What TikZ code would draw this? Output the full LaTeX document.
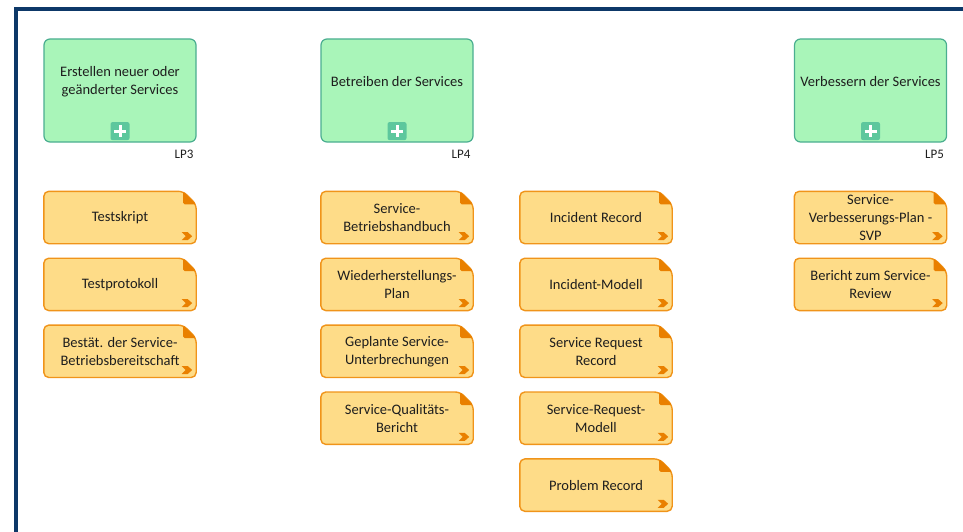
\documentclass[tikz,border=0pt]{standalone}
\usepackage{fontspec}
\setmainfont{Carlito}
\usepackage{xcolor}
\usetikzlibrary{positioning, backgrounds, calc}

\definecolor{framenavy}{HTML}{0D3868}
\definecolor{procfill}{HTML}{A9F5B9}
\definecolor{procline}{HTML}{4AAE90}
\definecolor{plusfill}{HTML}{5DC79D}
\definecolor{docfill}{HTML}{FEDC88}
\definecolor{docline}{HTML}{F0941A}
\definecolor{docdark}{HTML}{E98000}
\definecolor{inktext}{HTML}{1E1E1E}

\begin{document}
\begin{tikzpicture}[
    x=1pt, y=-1pt,
    node distance=14.5pt,
    process/.style={draw=procline, line width=1.2pt, fill=procfill, rectangle,
      rounded corners=6pt, minimum width=152pt, minimum height=103pt},
    proctext/.style={align=center, font=\fontsize{14.5}{18}\selectfont, text=inktext, inner sep=0pt},
    plusicon/.style={rectangle, rounded corners=2pt, fill=plusfill, minimum width=19pt,
      minimum height=18pt, inner sep=0pt,
      path picture={\draw[white, line width=3pt]
        ([yshift=-3pt]path picture bounding box.north) -- ([yshift=3pt]path picture bounding box.south)
        ([xshift=3.5pt]path picture bounding box.west) -- ([xshift=-3.5pt]path picture bounding box.east);}},
    lplabel/.style={font=\fontsize{13}{15}\selectfont, text=inktext, inner sep=0pt, anchor=north east},
    artifact/.style={rectangle, minimum width=152pt, minimum height=52pt, inner xsep=2pt,
      inner ysep=0pt, align=center, font=\fontsize{14.5}{18}\selectfont, text=inktext},
    docedge/.style={draw=docline, line width=1.4pt, fill=docfill, rounded corners=5pt}
]
\useasboundingbox (0,0) rectangle (963,532);
\clip (0,0) rectangle (963,532);

% frame
\draw[framenavy, line width=4pt] (16,560) -- (16,9) -- (990,9);

% processes
\node[process] (create) at (120,90.5) {};
\node[process] (operate) at (397,90.5) {};
\node[process] (improve) at (870.5,90.5) {};
\node[proctext] (create-txt) at ([yshift=9pt]create.center) {Erstellen neuer oder\\geänderter Services};
\node[proctext] (operate-txt) at ([yshift=9pt]operate.center) {Betreiben der Services};
\node[proctext] (improve-txt) at ([yshift=9pt]improve.center) {Verbessern der Services};
\foreach \p/\lp in {create/LP3, operate/LP4, improve/LP5} {
  \node[plusicon] (\p-plus) at ([yshift=11.5pt]\p.south) {};
  \node[lplabel] (\p-lp) at ([xshift=-3pt,yshift=-7pt]\p.south east) {\lp};
}

% artifacts
\node[artifact] (tscript) at (120,217.5) {Testskript};
\node[artifact, below=of tscript] (tprot) {Testprotokoll};
\node[artifact, below=of tprot] (ready) {Bestät. der Service-\\Betriebsbereitschaft};

\node[artifact] (manual) at (397,217.5) {Service-\\Betriebshandbuch};
\node[artifact, below=of manual] (recovery) {Wiederherstellungs-\\Plan};
\node[artifact, below=of recovery] (outages) {Geplante Service-\\Unterbrechungen};
\node[artifact, below=of outages] (qreport) {Service-Qualitäts-\\Bericht};

\node[artifact] (increc) at (596,217.5) {Incident Record};
\node[artifact, below=of increc] (incmodel) {Incident-Modell};
\node[artifact, below=of incmodel] (reqrec) {Service Request\\Record};
\node[artifact, below=of reqrec] (reqmodel) {Service-Request-\\Modell};
\node[artifact, below=of reqmodel] (probrec) {Problem Record};

\node[artifact] (svp) at (870.5,217.5) {Service-\\Verbesserungs-Plan -\\SVP};
\node[artifact, below=of svp] (review) {Bericht zum Service-\\Review};

\begin{scope}[on background layer]
\foreach \n in {tscript, tprot, ready, manual, recovery, outages, qreport,
    increc, incmodel, reqrec, reqmodel, probrec, svp, review} {
  \draw[docedge] (\n.west) -- (\n.north west) -- ([xshift=-13pt]\n.north east)
    -- ([yshift=-13pt]\n.north east) -- (\n.south east) -- (\n.south west) -- cycle;
  \fill[docdark, rounded corners=1.5pt] ([xshift=-13pt]\n.north east) -- ([xshift=-13pt,yshift=-13pt]\n.north east)
    -- ([yshift=-13pt]\n.north east) -- cycle;
  \fill[docdark] ($(\n.south east)+(-9,-7.5)$) ++(-5.5,-4) -- ++(6,0) -- ++(4.5,4)
    -- ++(-4.5,4) -- ++(-6,0) -- ++(4,-4) -- cycle;
}
\end{scope}
\end{tikzpicture}
\end{document}
